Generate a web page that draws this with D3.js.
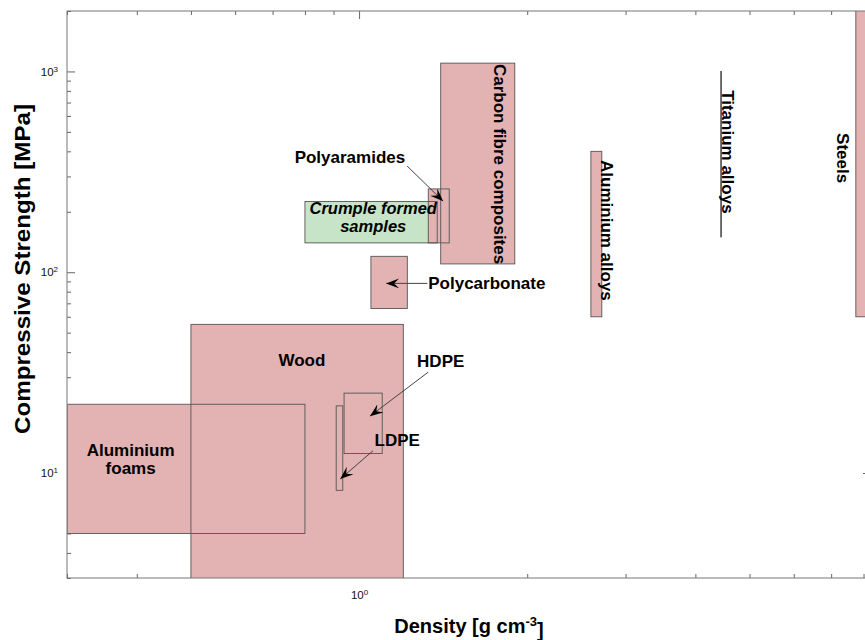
<!DOCTYPE html>
<html>
<head>
<meta charset="utf-8">
<script src="https://cdn.jsdelivr.net/npm/d3@7"></script>
<style>
  body { margin: 0; background: #fff; }
  text { font-family: "Liberation Sans", Arial, sans-serif; }
</style>
</head>
<body>
<svg id="chart" width="865" height="640"></svg>
<script>
// material property boxes: density [g cm-3] and compressive strength [MPa]
const materials = ["Aluminium foams", "Wood", "HDPE", "LDPE", "Polycarbonate", "Polyaramides",
    "Carbon fibre composites", "Aluminium alloys", "Titanium alloys", "Steels"];
const densityMin = [0.3, 0.5, 0.94, 0.91, 1.05, 1.33, 1.4, 2.6, 4.44, 7.75];
const densityMax = [0.8, 1.2, 1.1, 0.935, 1.22, 1.45, 1.9, 2.72, 4.455, 8.1];
const strengthMin = [5, 1, 12.5, 8.2, 66, 140, 110, 60, 150, 60];
const strengthMax = [22, 55, 25, 21.6, 120, 260, 1100, 400, 1000, 2500];

// the crumple formed samples
const sampleDensity = [0.8, 1.38];
const sampleStrength = [140, 225];

// annotations (anchor points in data units)
const labels = ["Aluminium\nfoams", "Wood", "HDPE", "LDPE", "Polycarbonate", "Polyaramides",
    "Crumple formed\nsamples", "Carbon fibre composites", "Aluminium alloys", "Titanium alloys", "Steels"];
const labelDensity = [0.39, 0.79, 1.40, 1.17, 1.33, 0.963, 1.06, 1.79, 2.78, 4.58, 7.36];
const labelStrength = [11.7, 36.5, 36.1, 14.6, 88, 375, 188, 1090, 362, 807, 493];

const arrowFrom = [[1.33, 31.8], [1.059, 12.9], [1.325, 88], [1.219, 338]];
const arrowTo = [[1.046, 19.2], [0.925, 9.33], [1.118, 88], [1.414, 226]];

// axes
const xTicks = [0.3, 0.4, 0.5, 0.6, 0.7, 0.8, 0.9, 1, 2, 3, 4, 5, 6, 7, 8];
const yTicks = [3, 4, 5, 6, 7, 8, 9, 10, 20, 30, 40, 50, 60, 70, 80, 90,
    100, 200, 300, 400, 500, 600, 700, 800, 900, 1000, 2000];
const xMajor = [1];
const yMajor = [10, 100, 1000];

const svg = d3.select("#chart");
const plot = { left: 67, right: 871, top: 11, bottom: 578 };

const x = d3.scaleLog().domain([0.3, 8.25]).range([plot.left, plot.right]);
const y = d3.scaleLog().domain([3, 2000]).range([plot.bottom, plot.top]);

const pink = "#e3b2b2";
const green = "#c8e4c8";
const edge = "#555";

const defs = svg.append("defs");
defs.append("clipPath").attr("id", "plot-clip")
    .append("rect")
    .attr("x", plot.left).attr("y", plot.top)
    .attr("width", plot.right - plot.left).attr("height", plot.bottom - plot.top);

const marker = defs.append("marker")
    .attr("id", "arrow")
    .attr("viewBox", "-13 -5 13 10")
    .attr("refX", 0).attr("refY", 0)
    .attr("markerUnits", "userSpaceOnUse")
    .attr("markerWidth", 13).attr("markerHeight", 10)
    .attr("orient", "auto");
marker.append("path").attr("d", "M0,0 L-13,-5 L-8,0 L-13,5 Z").attr("fill", "#000");

function sup(sel, major) {
    sel.selectAll(".tick text").each(function (d) {
        const t = d3.select(this);
        t.text("");
        if (!major.includes(d)) return;
        t.append("tspan").text("10");
        t.append("tspan").attr("dy", "-0.5em").attr("font-size", "8px").text(Math.round(Math.log10(d)));
    });
}

function tickLen(sel, major, attr, sign) {
    sel.selectAll(".tick line").attr(attr, d => sign * (major.includes(d) ? 8 : 4));
}

// ticks on all four sides, pointing inward
const gBottom = svg.append("g").attr("transform", `translate(0,${plot.bottom})`)
    .call(d3.axisBottom(x).tickValues(xTicks).tickSizeInner(-8).tickSizeOuter(0).tickPadding(13));
const gTop = svg.append("g").attr("transform", `translate(0,${plot.top})`)
    .call(d3.axisTop(x).tickValues(xTicks).tickSizeInner(-8).tickSizeOuter(0).tickFormat(""));
const gLeft = svg.append("g").attr("transform", `translate(${plot.left},0)`)
    .call(d3.axisLeft(y).tickValues(yTicks).tickSizeInner(-8).tickSizeOuter(0).tickPadding(9));
const gRight = svg.append("g").attr("transform", `translate(${plot.right},0)`)
    .call(d3.axisRight(y).tickValues(yTicks).tickSizeInner(-8).tickSizeOuter(0).tickFormat(""));

tickLen(gBottom, xMajor, "y2", -1);
tickLen(gTop, xMajor, "y2", 1);
tickLen(gLeft, yMajor, "x2", 1);
tickLen(gRight, yMajor, "x2", -1);
sup(gBottom, xMajor);
sup(gLeft, yMajor);

[gBottom, gTop, gLeft, gRight].forEach(g => {
    g.select(".domain").remove();
    g.selectAll(".tick line").attr("stroke", "#666");
    g.selectAll(".tick text").attr("font-size", "11.5px").attr("fill", "#111")
        .attr("font-family", "'Liberation Sans', Arial, sans-serif");
});

// boxes
const boxes = svg.append("g").attr("clip-path", "url(#plot-clip)");

boxes.append("rect")
    .attr("class", "sample")
    .attr("x", x(sampleDensity[0]))
    .attr("y", y(sampleStrength[1]))
    .attr("width", x(sampleDensity[1]) - x(sampleDensity[0]))
    .attr("height", y(sampleStrength[0]) - y(sampleStrength[1]))
    .attr("fill", green);

boxes.selectAll(".material")
    .data(materials)
    .enter()
    .append("rect")
    .attr("class", "material")
    .attr("x", (d, i) => x(densityMin[i]))
    .attr("y", (d, i) => y(strengthMax[i]))
    .attr("width", (d, i) => x(densityMax[i]) - x(densityMin[i]))
    .attr("height", (d, i) => y(strengthMin[i]) - y(strengthMax[i]))
    .attr("fill", pink);

// outlines on top of all fills
boxes.selectAll(".outline")
    .data(materials)
    .enter()
    .append("rect")
    .attr("class", "outline")
    .attr("x", (d, i) => x(densityMin[i]))
    .attr("y", (d, i) => y(strengthMax[i]))
    .attr("width", (d, i) => x(densityMax[i]) - x(densityMin[i]))
    .attr("height", (d, i) => y(strengthMin[i]) - y(strengthMax[i]))
    .attr("fill", "none")
    .attr("stroke", edge)
    .attr("stroke-width", 0.9);

boxes.append("rect")
    .attr("x", x(sampleDensity[0]))
    .attr("y", y(sampleStrength[1]))
    .attr("width", x(sampleDensity[1]) - x(sampleDensity[0]))
    .attr("height", y(sampleStrength[0]) - y(sampleStrength[1]))
    .attr("fill", "none")
    .attr("stroke", edge)
    .attr("stroke-width", 0.9);

// frame
svg.append("rect")
    .attr("x", plot.left).attr("y", plot.top)
    .attr("width", plot.right - plot.left).attr("height", plot.bottom - plot.top)
    .attr("fill", "none")
    .attr("stroke", "#777")
    .attr("stroke-width", 1);

// arrows
svg.selectAll(".arrow")
    .data(arrowFrom)
    .enter()
    .append("line")
    .attr("class", "arrow")
    .attr("x1", d => x(d[0]))
    .attr("y1", d => y(d[1]))
    .attr("x2", (d, i) => x(arrowTo[i][0]))
    .attr("y2", (d, i) => y(arrowTo[i][1]))
    .attr("stroke", "#444")
    .attr("stroke-width", 1)
    .attr("marker-end", "url(#arrow)");

// labels
const vertical = ["Carbon fibre composites", "Aluminium alloys", "Titanium alloys", "Steels"];

const label = svg.selectAll(".label")
    .data(labels)
    .enter()
    .append("text")
    .attr("class", "label")
    .attr("font-size", d => d.startsWith("Crumple") ? "16.5px" : "17px")
    .attr("font-weight", "bold")
    .attr("font-style", d => d.startsWith("Crumple") ? "italic" : "normal")
    .attr("fill", "#000")
    .attr("dominant-baseline", "central")
    .attr("text-anchor", d => vertical.includes(d) || d === "Polycarbonate" ? "start" : "middle")
    .attr("transform", (d, i) => {
        const px = x(labelDensity[i]), py = y(labelStrength[i]);
        return vertical.includes(d) ? `translate(${px},${py}) rotate(90)` : `translate(${px},${py})`;
    });

label.each(function (d) {
    const lines = d.split("\n");
    d3.select(this).selectAll("tspan")
        .data(lines)
        .enter()
        .append("tspan")
        .attr("x", 0)
        .attr("y", (l, j) => (j - (lines.length - 1) / 2) * 18)
        .text(l => l);
});

// axis titles
svg.append("text")
    .attr("x", (plot.left + plot.right) / 2)
    .attr("y", 633)
    .attr("text-anchor", "middle")
    .attr("font-size", "20px")
    .attr("font-weight", "bold")
    .call(t => {
        t.append("tspan").text("Density [g cm");
        t.append("tspan").attr("dy", "-0.55em").attr("font-size", "13px").text("-3");
        t.append("tspan").attr("dy", "0.55em").text("]");
    });

svg.append("text")
    .attr("transform", `translate(30,269) rotate(-90)`)
    .attr("text-anchor", "middle")
    .attr("font-size", "22px")
    .attr("font-weight", "bold")
    .attr("textLength", 330)
    .attr("lengthAdjust", "spacingAndGlyphs")
    .text("Compressive Strength [MPa]");
</script>
</body>
</html>
